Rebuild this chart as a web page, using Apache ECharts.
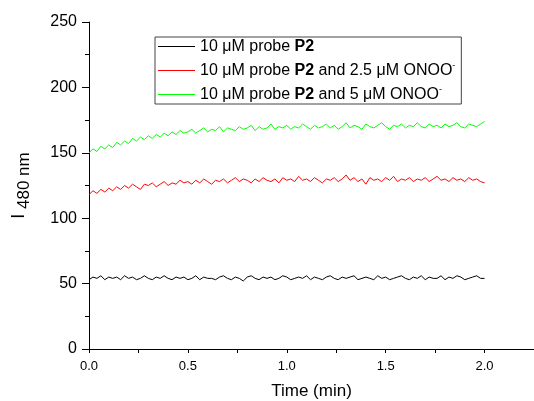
<!DOCTYPE html>
<html><head><meta charset="utf-8">
<script src="https://cdn.jsdelivr.net/npm/echarts@6/dist/echarts.min.js"></script>
<style>html,body{margin:0;padding:0;background:#fff}#c{width:534px;height:401px}</style>
</head><body><div id="c"></div>
<script>
const timeStart = 0, timeEnd = 2.0;
const probeOnly = [53,55,54,56,53,55,54,55,53,56,54,55,53,54,56,54,53,55,54,56,54,53,55,54,55,53,54,56,53,55,54,54,53,55,56,54,53,55,54,52,55,56,54,53,55,54,55,53,54,56,55,53,54,55,54,56,53,55,54,53,55,56,54,53,55,54,55,56,53,54,55,54,53,56,54,55,53,54,55,56,54,53,55,54,56,53,55,54,54,56,53,55,54,56,55,53,54,55,56,54,54];
const onoo25 = [118,121,119,122,120,123,121,124,122,125,123,126,124,122,126,125,127,124,126,128,125,127,126,129,127,128,126,129,127,130,128,126,129,128,130,127,129,131,128,130,129,127,130,128,131,129,128,130,127,131,129,130,128,132,129,130,128,131,129,127,130,129,131,128,130,133,129,131,128,130,126,131,129,130,128,131,129,132,128,130,129,131,128,130,129,131,128,130,132,129,130,128,131,129,130,128,131,129,130,128,127];
const onoo5 = [150,153,151,155,153,156,154,158,156,159,157,161,159,162,160,163,161,164,162,165,163,166,164,167,165,166,168,165,167,169,166,168,167,170,166,169,168,167,170,168,169,171,167,170,168,169,172,168,170,169,171,168,170,169,172,170,168,171,169,170,172,169,171,168,170,173,169,171,170,168,172,170,169,171,173,170,168,171,170,172,169,171,170,173,170,169,172,170,171,169,172,170,171,173,170,169,172,171,170,172,174];
const seriesNames = ['s0','s1','s2'];
const legendTexts = [
  '{a|10 μM probe }{b|P2}',
  '{a|10 μM probe }{b|P2}{a| and 2.5 μM ONOO}{s|-}',
  '{a|10 μM probe }{b|P2}{a| and 5 μM ONOO}{s|-}'
];
const xTicks = ['0.0','0.5','1.0','1.5','2.0'];
const yTicks = [0,50,100,150,200,250];

function toXY(arr){
  const n = arr.length;
  return arr.map((v,i)=>[timeStart + (timeEnd-timeStart)*i/(n-1), v]);
}
const colors = ['#000000','#ff0000','#00ff00'];
const chart = echarts.init(document.getElementById('c'));
const font = 'Liberation Sans, Arial, sans-serif';
const LFS = 16;
chart.setOption({
  animation:false,
  textStyle:{fontFamily:font},
  grid:{left:89,top:22,right:0,bottom:52,containLabel:false,outerBoundsMode:'none'},
  legend:{
    orient:'vertical', left:155, top:37,
    data:seriesNames.map((n,i)=>({name:n,itemStyle:{color:colors[i]}})),
    borderColor:'#444', borderWidth:1, borderRadius:0,
    padding:[0,6,0,3],
    itemWidth:37, itemHeight:1, itemGap:5,
    icon:'rect',
    formatter:function(name){return legendTexts[seriesNames.indexOf(name)];},
    textStyle:{
      fontFamily:font, fontSize:LFS, color:'#000', lineHeight:19,
      rich:{
        a:{fontFamily:font,fontSize:LFS,color:'#000',lineHeight:19},
        b:{fontFamily:font,fontSize:LFS,color:'#000',fontWeight:'bold',lineHeight:19},
        s:{fontFamily:font,fontSize:9,color:'#000',lineHeight:19,verticalAlign:'top',padding:[0,0,8,0]}
      }
    }
  },
  xAxis:{
    type:'value', min:0, max:2.25, interval:0.5,
    name:'Time (min)', nameLocation:'middle', nameGap:34,
    nameTextStyle:{fontFamily:font,fontSize:17,color:'#000'},
    axisLine:{lineStyle:{color:'#000',width:1}},
    axisTick:{show:true,length:4,lineStyle:{color:'#000'}},
    minorTick:{show:true,splitNumber:2,length:4,lineStyle:{color:'#000'}},
    splitLine:{show:false},
    axisLabel:{fontFamily:font,fontSize:13,color:'#000',margin:11,showMaxLabel:false,
      formatter:function(v){const s=v.toFixed(1);return xTicks.indexOf(s)>=0?s:'';}}
  },
  yAxis:{
    type:'value', min:0, max:250, interval:50,
    name:'{i|I}{s| 480 nm}', nameLocation:'middle', nameGap:56, nameRotate:90,
    nameTextStyle:{fontFamily:font,fontSize:17,color:'#000',
      rich:{i:{fontFamily:font,fontSize:18,color:'#000'},
            s:{fontFamily:font,fontSize:17,color:'#000',padding:[11,0,0,0]}}},
    axisLine:{show:true,lineStyle:{color:'#000',width:1}},
    axisTick:{show:true,length:7,lineStyle:{color:'#000'}},
    minorTick:{show:true,splitNumber:2,length:4,lineStyle:{color:'#000'}},
    splitLine:{show:false},
    axisLabel:{fontFamily:font,fontSize:16,color:'#000',margin:12,
      formatter:function(v){return yTicks.indexOf(v)>=0?String(v):'';}}
  },
  series:[probeOnly,onoo25,onoo5].map((d,i)=>({
    name:seriesNames[i], type:'line', data:toXY(d), showSymbol:false, symbol:'none',
    lineStyle:{color:colors[i],width:1}, itemStyle:{color:colors[i]}
  }))
});
</script></body></html>
